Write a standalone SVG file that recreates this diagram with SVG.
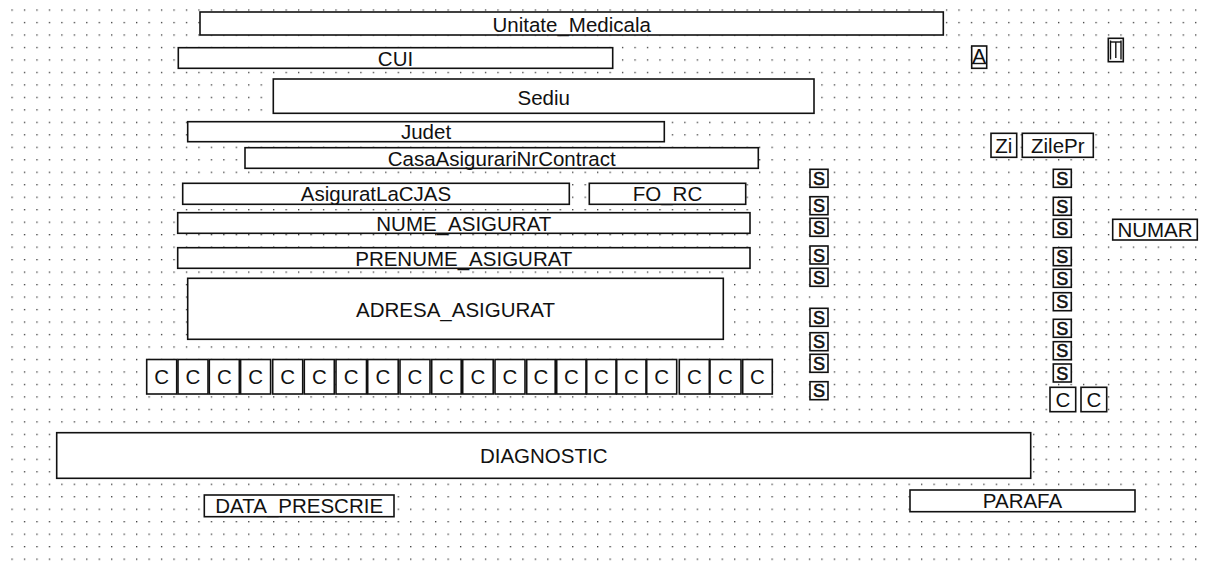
<svg xmlns="http://www.w3.org/2000/svg" width="1208" height="570" viewBox="0 0 1208 570">
<style>
  .bx { fill: #ffffff; stroke: #111111; stroke-width: 1.6; }
  .tx { font-family: "Liberation Sans", Arial, sans-serif; font-size: 20.5px; fill: #111111; text-anchor: middle; }
  .ic { font-family: "Liberation Sans", Arial, sans-serif; font-size: 18px; fill: #111111; stroke: #111111; stroke-width: 0.6; text-anchor: middle; }
  .ln { stroke: #111111; stroke-width: 1.4; fill: none; }
</style>
<defs>
  <pattern id="grid" patternUnits="userSpaceOnUse" x="11.4" y="9.4" width="12.46" height="12.48">
    <rect x="0" y="0" width="1.3" height="1.3" fill="#333333"/>
  </pattern>
  <g id="sicon">
    <rect class="bx" x="0" y="0" width="18" height="18"/>
    <text class="ic" x="9" y="15.5">S</text>
  </g>
</defs>
<rect x="0" y="0" width="1208" height="570" fill="#ffffff"/>
<rect x="6" y="4" width="1196" height="560" fill="url(#grid)"/>

<g id="connectors"></g>

<g id="Unitate_Medicala"><rect class="bx" x="200" y="12" width="743.3" height="23"/><text class="tx" x="571.7" y="31.5">Unitate_Medicala</text></g>
<g id="CUI"><rect class="bx" x="178.3" y="47.7" width="434.4" height="20.6"/><text class="tx" x="395.5" y="65.5">CUI</text></g>
<g id="Sediu"><rect class="bx" x="273.3" y="79" width="540.7" height="34.3"/><text class="tx" x="543.7" y="104.5">Sediu</text></g>
<g id="Judet"><rect class="bx" x="187.7" y="121.7" width="476.6" height="20"/><text class="tx" x="426" y="139">Judet</text></g>
<g id="CasaAsigurariNrContract"><rect class="bx" x="245" y="147.7" width="513.3" height="20.6"/><text class="tx" x="501.7" y="166">CasaAsigurariNrContract</text></g>
<g id="AsiguratLaCJAS"><rect class="bx" x="182.7" y="183.3" width="386.6" height="21"/><text class="tx" x="376" y="201">AsiguratLaCJAS</text></g>
<g id="FO_RC"><rect class="bx" x="589.3" y="183.3" width="156.4" height="21"/><text class="tx" x="667.5" y="201">FO_RC</text></g>
<g id="NUME_ASIGURAT"><rect class="bx" x="177.7" y="212.7" width="572.3" height="20.6"/><text class="tx" x="463.8" y="230.5">NUME_ASIGURAT</text></g>
<g id="PRENUME_ASIGURAT"><rect class="bx" x="177.7" y="247.7" width="572.3" height="20.6"/><text class="tx" x="463.8" y="265.5">PRENUME_ASIGURAT</text></g>
<g id="ADRESA_ASIGURAT"><rect class="bx" x="187.7" y="278.3" width="535.6" height="61"/><text class="tx" x="455.5" y="316.5">ADRESA_ASIGURAT</text></g>

<g id="C_row">
  <g id="C1"><rect class="bx" x="146.7" y="359.5" width="30" height="34.5"/><text class="tx" x="161.7" y="384">C</text></g>
  <g id="C2"><rect class="bx" x="178" y="359.5" width="30" height="34.5"/><text class="tx" x="193" y="384">C</text></g>
  <g id="C3"><rect class="bx" x="209.3" y="359.5" width="30" height="34.5"/><text class="tx" x="224.3" y="384">C</text></g>
  <g id="C4"><rect class="bx" x="240.6" y="359.5" width="30" height="34.5"/><text class="tx" x="255.6" y="384">C</text></g>
  <g id="C5"><rect class="bx" x="272.7" y="359.5" width="30" height="34.5"/><text class="tx" x="287.7" y="384">C</text></g>
  <g id="C6"><rect class="bx" x="304.3" y="359.5" width="30" height="34.5"/><text class="tx" x="319.3" y="384">C</text></g>
  <g id="C7"><rect class="bx" x="336" y="359.5" width="30.5" height="34.5"/><text class="tx" x="351.2" y="384">C</text></g>
  <g id="C8"><rect class="bx" x="367.7" y="359.5" width="30.5" height="34.5"/><text class="tx" x="383" y="384">C</text></g>
  <g id="C9"><rect class="bx" x="400" y="359.5" width="30" height="34.5"/><text class="tx" x="415" y="384">C</text></g>
  <g id="C10"><rect class="bx" x="431.7" y="359.5" width="29.5" height="34.5"/><text class="tx" x="446.4" y="384">C</text></g>
  <g id="C11"><rect class="bx" x="462.7" y="359.5" width="30.5" height="34.5"/><text class="tx" x="478" y="384">C</text></g>
  <g id="C12"><rect class="bx" x="495" y="359.5" width="30" height="34.5"/><text class="tx" x="510" y="384">C</text></g>
  <g id="C13"><rect class="bx" x="526.7" y="359.5" width="28.5" height="34.5"/><text class="tx" x="541" y="384">C</text></g>
  <g id="C14"><rect class="bx" x="556.7" y="359.5" width="29.3" height="34.5"/><text class="tx" x="571.3" y="384">C</text></g>
  <g id="C15"><rect class="bx" x="586.7" y="359.5" width="29.3" height="34.5"/><text class="tx" x="601.3" y="384">C</text></g>
  <g id="C16"><rect class="bx" x="616.7" y="359.5" width="29.3" height="34.5"/><text class="tx" x="631.3" y="384">C</text></g>
  <g id="C17"><rect class="bx" x="646.7" y="359.5" width="30" height="34.5"/><text class="tx" x="661.7" y="384">C</text></g>
  <g id="C18"><rect class="bx" x="679.3" y="359.5" width="30" height="34.5"/><text class="tx" x="694.3" y="384">C</text></g>
  <g id="C19"><rect class="bx" x="710" y="359.5" width="31" height="34.5"/><text class="tx" x="725.5" y="384">C</text></g>
  <g id="C20"><rect class="bx" x="742.7" y="359.5" width="29.6" height="34.5"/><text class="tx" x="757.5" y="384">C</text></g>
</g>

<g id="DIAGNOSTIC"><rect class="bx" x="56.7" y="432.7" width="974" height="45.6"/><text class="tx" x="543.7" y="463">DIAGNOSTIC</text></g>
<g id="DATA_PRESCRIE"><rect class="bx" x="204.3" y="495" width="189.7" height="21.7"/><text class="tx" x="299.2" y="513">DATA_PRESCRIE</text></g>
<g id="PARAFA"><rect class="bx" x="910" y="490" width="225" height="21.7"/><text class="tx" x="1022.5" y="508">PARAFA</text></g>

<g id="A_icon"><rect class="bx" x="971.7" y="46" width="15" height="22.3"/><text class="tx" x="979.2" y="63" font-size="18">A</text><line class="ln" x1="972" y1="63.5" x2="986.5" y2="63.5"/></g>
<g id="T_icon"><rect class="bx" x="1108.3" y="38.3" width="15" height="23.4"/><line class="ln" x1="1110.5" y1="42" x2="1121" y2="42"/><line class="ln" x1="1115.8" y1="42" x2="1115.8" y2="58"/><line class="ln" x1="1110.5" y1="40.5" x2="1110.5" y2="59.5"/><line class="ln" x1="1121" y1="40.5" x2="1121" y2="59.5"/></g>

<g id="Zi"><rect class="bx" x="991" y="133.3" width="25.7" height="24"/><text class="tx" x="1003.8" y="153">Zi</text></g>
<g id="ZilePr"><rect class="bx" x="1022.3" y="133.3" width="71" height="24"/><text class="tx" x="1057.8" y="153">ZilePr</text></g>
<g id="NUMAR"><rect class="bx" x="1112.7" y="219.3" width="84.6" height="20.7"/><text class="tx" x="1155" y="237">NUMAR</text></g>

<g id="S_left">
  <g id="SL1"><use href="#sicon" x="810" y="169.3"/></g>
  <g id="SL2"><use href="#sicon" x="810" y="196.7"/></g>
  <g id="SL3"><use href="#sicon" x="810" y="218.3"/></g>
  <g id="SL4"><use href="#sicon" x="810" y="246"/></g>
  <g id="SL5"><use href="#sicon" x="810" y="268.3"/></g>
  <g id="SL6"><use href="#sicon" x="810" y="308.3"/></g>
  <g id="SL7"><use href="#sicon" x="810" y="332.7"/></g>
  <g id="SL8"><use href="#sicon" x="810" y="354.3"/></g>
  <g id="SL9"><use href="#sicon" x="810" y="381.7"/></g>
</g>
<g id="S_right">
  <g id="SR1"><use href="#sicon" x="1053.3" y="169.3"/></g>
  <g id="SR2"><use href="#sicon" x="1053.3" y="197.3"/></g>
  <g id="SR3"><use href="#sicon" x="1053.3" y="219.3"/></g>
  <g id="SR4"><use href="#sicon" x="1053.3" y="247.7"/></g>
  <g id="SR5"><use href="#sicon" x="1053.3" y="269.3"/></g>
  <g id="SR6"><use href="#sicon" x="1053.3" y="292.7"/></g>
  <g id="SR7"><use href="#sicon" x="1053.3" y="319.3"/></g>
  <g id="SR8"><use href="#sicon" x="1053.3" y="341.7"/></g>
  <g id="SR9"><use href="#sicon" x="1053.3" y="364"/></g>
</g>
<g id="C_right1"><rect class="bx" x="1050" y="387.3" width="25.7" height="24.4"/><text class="tx" x="1062.8" y="406.5">C</text></g>
<g id="C_right2"><rect class="bx" x="1081" y="387.3" width="25.7" height="24.4"/><text class="tx" x="1093.8" y="406.5">C</text></g>
</svg>
